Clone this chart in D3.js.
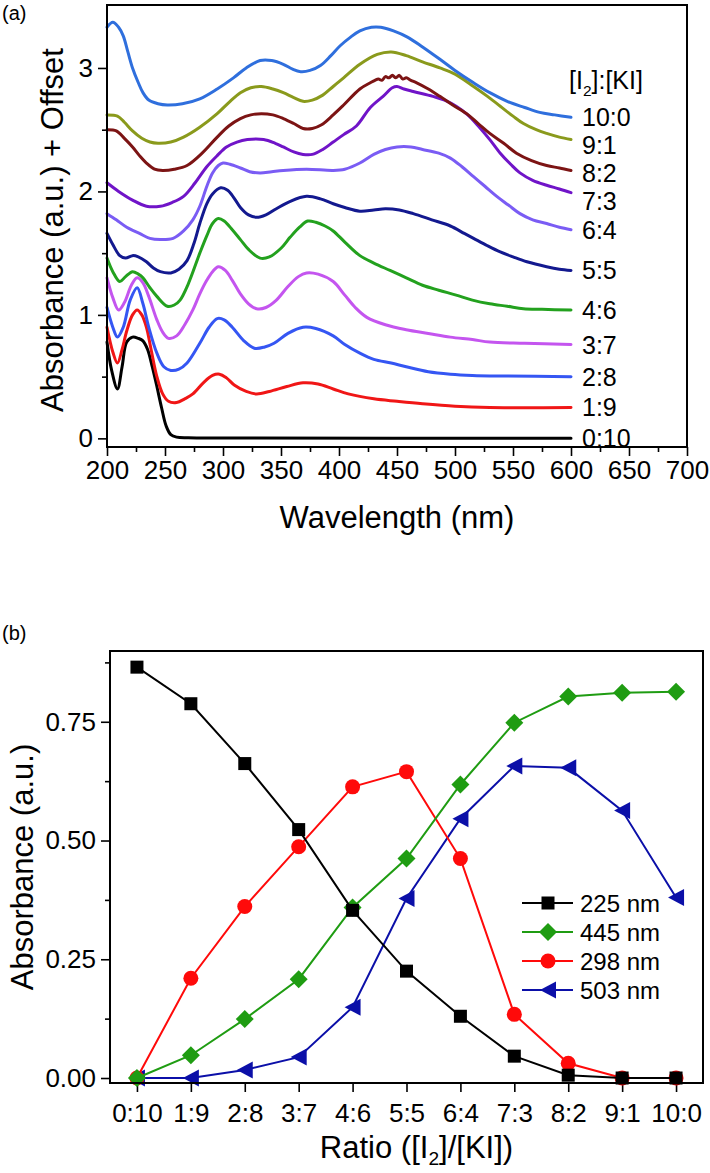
<!DOCTYPE html>
<html><head><meta charset="utf-8">
<script src="https://cdn.jsdelivr.net/npm/d3@7"></script>
<style>body{margin:0;background:#fff}svg{display:block;font-family:"Liberation Sans",Arial,Helvetica,sans-serif}</style>
</head><body><svg id="chart" width="710" height="1173"></svg>
<script>
// ---------- (a) spectra: [wavelength nm, absorbance + offset] ----------
const s10_0 = [[200,3.33],[205,3.37],[210,3.33],[214,3.26],[218,3.13],[222,3.00],[227,2.88],[231,2.80],[236,2.74],[244,2.71],[252,2.70],[265,2.71],[280,2.75],[295,2.83],[309,2.92],[320,3.00],[332,3.06],[342,3.06],[352,3.03],[360,2.99],[367,2.97],[375,2.98],[384,3.02],[393,3.10],[401,3.18],[410,3.25],[418,3.30],[428,3.33],[436,3.33],[447,3.30],[459,3.25],[472,3.17],[487,3.07],[500,2.98],[516,2.88],[530,2.80],[545,2.73],[560,2.68],[573,2.64],[586,2.62],[600,2.60]];
const s9_1 = [[200,2.62],[209,2.61],[215,2.56],[222,2.49],[230,2.43],[237,2.40],[244,2.39],[255,2.40],[266,2.44],[280,2.52],[295,2.63],[305,2.72],[315,2.80],[324,2.84],[333,2.85],[343,2.83],[352,2.80],[361,2.76],[369,2.73],[377,2.74],[386,2.78],[395,2.85],[404,2.92],[418,3.03],[433,3.11],[445,3.13],[458,3.10],[472,3.05],[487,3.00],[500,2.95],[516,2.85],[528,2.77],[539,2.69],[550,2.61],[559,2.55],[570,2.50],[579,2.47],[590,2.44],[600,2.42]];
const s8_2 = [[200,2.50],[208,2.49],[215,2.43],[222,2.36],[228,2.29],[234,2.23],[241,2.18],[248,2.17],[258,2.18],[269,2.21],[282,2.31],[295,2.44],[305,2.53],[315,2.59],[324,2.62],[333,2.63],[343,2.62],[352,2.59],[361,2.55],[369,2.51],[377,2.51],[385,2.54],[395,2.62],[404,2.70],[418,2.83],[427,2.88],[431,2.90],[434,2.91],[437,2.90],[440,2.93],[443,2.92],[446,2.94],[449,2.92],[452,2.94],[455,2.91],[458,2.92],[462,2.90],[467,2.88],[477,2.83],[487,2.77],[498,2.70],[510,2.63],[520,2.55],[530,2.47],[542,2.39],[553,2.31],[566,2.25],[579,2.21],[590,2.19],[600,2.17]];
const s7_3 = [[200,2.07],[210,2.00],[222,1.93],[234,1.88],[246,1.88],[256,1.91],[266,1.96],[276,2.07],[286,2.20],[295,2.29],[303,2.36],[312,2.40],[321,2.42],[335,2.42],[345,2.39],[352,2.36],[361,2.32],[369,2.30],[377,2.30],[386,2.34],[395,2.40],[404,2.46],[415,2.53],[427,2.68],[438,2.77],[446,2.84],[450,2.85],[456,2.83],[464,2.81],[481,2.77],[491,2.74],[501,2.69],[511,2.62],[521,2.52],[530,2.42],[539,2.31],[548,2.22],[556,2.15],[567,2.09],[579,2.05],[590,2.02],[600,1.99]];
const s6_4 = [[200,1.82],[208,1.77],[217,1.71],[228,1.66],[237,1.62],[246,1.61],[257,1.62],[266,1.68],[274,1.77],[280,1.88],[286,2.04],[291,2.15],[296,2.21],[300,2.23],[306,2.22],[315,2.19],[323,2.16],[332,2.15],[342,2.16],[352,2.17],[372,2.18],[395,2.17],[405,2.18],[418,2.23],[430,2.30],[440,2.34],[450,2.36],[462,2.36],[472,2.34],[486,2.31],[496,2.27],[506,2.20],[516,2.12],[526,2.04],[536,1.96],[546,1.89],[556,1.82],[567,1.77],[579,1.74],[590,1.71],[600,1.69]];
const s5_5 = [[200,1.66],[205,1.57],[211,1.48],[216,1.46],[222,1.48],[227,1.47],[234,1.43],[240,1.38],[246,1.35],[255,1.34],[262,1.37],[269,1.44],[275,1.58],[280,1.74],[286,1.90],[291,1.98],[298,2.03],[304,2.01],[310,1.94],[315,1.87],[322,1.81],[329,1.79],[337,1.81],[346,1.86],[358,1.92],[372,1.96],[384,1.94],[395,1.90],[405,1.87],[418,1.84],[430,1.85],[440,1.86],[452,1.85],[464,1.82],[480,1.77],[496,1.72],[508,1.66],[516,1.62],[528,1.56],[539,1.51],[550,1.47],[562,1.43],[579,1.39],[590,1.37],[600,1.36]];
const s4_6 = [[200,1.46],[205,1.35],[211,1.27],[216,1.31],[222,1.35],[227,1.33],[231,1.30],[237,1.22],[243,1.15],[252,1.07],[258,1.08],[263,1.12],[270,1.25],[280,1.50],[286,1.64],[291,1.74],[296,1.78],[301,1.76],[308,1.69],[315,1.61],[322,1.53],[332,1.46],[340,1.47],[350,1.54],[358,1.63],[366,1.71],[373,1.76],[380,1.75],[388,1.72],[395,1.68],[405,1.59],[418,1.48],[430,1.42],[444,1.36],[458,1.30],[472,1.24],[486,1.20],[501,1.16],[515,1.12],[530,1.09],[545,1.07],[559,1.05],[575,1.045],[600,1.04]];
const s3_7 = [[200,1.30],[205,1.14],[210,1.04],[215,1.10],[221,1.24],[226,1.30],[231,1.26],[236,1.15],[243,0.96],[248,0.86],[253,0.81],[260,0.83],[267,0.92],[274,1.04],[280,1.17],[286,1.28],[291,1.35],[296,1.39],[302,1.36],[308,1.28],[315,1.17],[322,1.09],[329,1.05],[337,1.06],[346,1.12],[356,1.23],[365,1.31],[372,1.34],[382,1.33],[395,1.27],[405,1.16],[414,1.06],[424,0.98],[440,0.92],[458,0.88],[477,0.85],[496,0.82],[515,0.80],[530,0.78],[560,0.77],[600,0.76]];
const s2_8 = [[200,1.06],[205,0.90],[209,0.82],[214,0.90],[220,1.12],[226,1.22],[231,1.09],[236,0.90],[243,0.69],[249,0.58],[255,0.55],[262,0.56],[269,0.61],[280,0.77],[288,0.90],[295,0.97],[301,0.96],[308,0.90],[318,0.79],[327,0.73],[336,0.74],[344,0.77],[356,0.85],[369,0.90],[380,0.89],[395,0.83],[405,0.76],[418,0.69],[430,0.64],[445,0.61],[458,0.58],[477,0.54],[496,0.52],[515,0.51],[545,0.505],[600,0.50]];
const s1_9 = [[200,0.90],[205,0.70],[209,0.61],[213,0.72],[217,0.87],[222,1.00],[226,1.04],[230,1.00],[234,0.90],[238,0.72],[243,0.50],[248,0.36],[253,0.30],[260,0.29],[267,0.32],[274,0.36],[283,0.45],[291,0.51],[297,0.52],[303,0.49],[310,0.43],[320,0.38],[329,0.36],[340,0.38],[355,0.42],[369,0.45],[382,0.44],[395,0.40],[408,0.36],[430,0.32],[450,0.30],[472,0.28],[500,0.26],[530,0.25],[600,0.25]];
const s0_10 = [[200,0.78],[204,0.55],[209,0.40],[213,0.58],[217,0.78],[222,0.82],[227,0.81],[231,0.79],[235,0.72],[239,0.58],[243,0.42],[247,0.25],[251,0.10],[255,0.03],[260,0.01],[270,0.005],[300,0.003],[600,0.0]];

const spectraLabels = ['10:0','9:1','8:2','7:3','6:4','5:5','4:6','3:7','2:8','1:9','0:10'];
const spectraData = [s10_0, s9_1, s8_2, s7_3, s6_4, s5_5, s4_6, s3_7, s2_8, s1_9, s0_10];
const spectraColors = ['#2f6fdd','#8a9a1c','#7c1414','#7014c8','#7a5cf4','#13198f','#23a11e','#c455ef','#3556f3','#f01616','#000000'];

// ---------- (b) absorbance vs ratio ----------
const ratios = ['0:10','1:9','2:8','3:7','4:6','5:5','6:4','7:3','8:2','9:1','10:0'];
const abs225 = [0.865, 0.788, 0.662, 0.523, 0.353, 0.225, 0.130, 0.046, 0.006, 0.0, 0.0];
const abs445 = [0.0, 0.048, 0.124, 0.208, 0.359, 0.462, 0.618, 0.748, 0.803, 0.811, 0.813];
const abs298 = [0.0, 0.210, 0.361, 0.487, 0.613, 0.645, 0.462, 0.134, 0.031, 0.0, 0.0];
const abs503 = [0.0, 0.0, 0.017, 0.044, 0.149, 0.378, 0.546, 0.657, 0.653, 0.563, 0.380];
const seriesNames = ['225 nm','445 nm','298 nm','503 nm'];

const svg = d3.select('#chart');
svg.append('rect').attr('width', 710).attr('height', 1173).attr('fill', '#fff');

function subText(sel, parts) {
  // parts: [text, isSub]
  parts.forEach(([t, sub], i) => {
    const ts = sel.append('tspan').text(t);
    if (sub) ts.attr('dy', 7).attr('font-size', '0.62em');
    else if (i > 0 && parts[i - 1][1]) ts.attr('dy', -7);
  });
}

// ================= panel (a) =================
const A = { l: 107, r: 687, t: 5, b: 447 };
const xa = d3.scaleLinear().domain([200, 700]).range([A.l, A.r]);
const ya = d3.scaleLinear().domain([-0.07, 3.51]).range([A.b, A.t]);
const ga = svg.append('g');

const xAxA = d3.axisBottom(xa).tickValues(d3.range(200, 701, 50)).tickSize(9).tickSizeOuter(0).tickPadding(5).tickFormat(d3.format('d'));
ga.append('g').attr('transform', `translate(0,${A.b})`).call(xAxA)
  .call(g => g.select('.domain').remove())
  .call(g => g.selectAll('line').attr('stroke', '#000').attr('stroke-width', 1.6))
  .call(g => g.selectAll('text').attr('font-size', 26).attr('fill', '#000').attr('font-family', null));
ga.append('g').attr('transform', `translate(0,${A.b})`)
  .call(d3.axisBottom(xa).tickValues(d3.range(225, 700, 50)).tickSize(5).tickFormat(''))
  .call(g => g.select('.domain').remove())
  .call(g => g.selectAll('line').attr('stroke', '#000').attr('stroke-width', 1.6));

ga.append('g').attr('transform', `translate(${A.l},0)`)
  .call(d3.axisLeft(ya).tickValues([0, 1, 2, 3]).tickSize(9).tickPadding(5).tickFormat(d3.format('d')))
  .call(g => g.select('.domain').remove())
  .call(g => g.selectAll('line').attr('stroke', '#000').attr('stroke-width', 1.6))
  .call(g => g.selectAll('text').attr('font-size', 26).attr('fill', '#000').attr('font-family', null));
ga.append('g').attr('transform', `translate(${A.l},0)`)
  .call(d3.axisLeft(ya).tickValues([0.5, 1.5, 2.5]).tickSize(5).tickFormat(''))
  .call(g => g.select('.domain').remove())
  .call(g => g.selectAll('line').attr('stroke', '#000').attr('stroke-width', 1.6));

const lineA = d3.line().x(d => xa(d[0])).y(d => ya(d[1])).curve(d3.curveCatmullRom.alpha(0.5));
ga.append('g').selectAll('path').data(spectraData.slice().reverse()).join('path')
  .attr('d', lineA).attr('fill', 'none')
  .attr('stroke', (d, i) => spectraColors[spectraData.length - 1 - i])
  .attr('stroke-width', 3).attr('stroke-linejoin', 'round').attr('stroke-linecap', 'round');

ga.append('rect').attr('x', A.l).attr('y', A.t).attr('width', A.r - A.l).attr('height', A.b - A.t)
  .attr('fill', 'none').attr('stroke', '#000').attr('stroke-width', 2);

// series labels at the end of each spectrum, nudged apart
let prevY = -Infinity;
const labY = spectraData.map(s => {
  let yy = ya(s[s.length - 1][1]);
  if (yy - prevY < 28) yy = prevY + 28;
  prevY = yy;
  return yy;
});
ga.append('g').selectAll('text').data(spectraLabels).join('text')
  .attr('x', xa(600) + 11).attr('y', (d, i) => labY[i]).attr('dy', '0.36em')
  .attr('font-size', 25).text(d => d);
subText(ga.append('text').attr('x', 569).attr('y', 89).attr('font-size', 25), [['[I', false], ['2', true], [']:[KI]', false]]);

ga.append('text').attr('x', xa(450)).attr('y', 528).attr('text-anchor', 'middle').attr('font-size', 31).text('Wavelength (nm)');
ga.append('text').attr('transform', `translate(63,${(A.t + A.b) / 2 + 4}) rotate(-90)`).attr('text-anchor', 'middle')
  .attr('font-size', 31).text('Absorbance (a.u.) + Offset');
ga.append('text').attr('x', 2).attr('y', 20).attr('font-size', 20).text('(a)');

// ================= panel (b) =================
const B = { l: 110, r: 703, t: 651, b: 1083 };
const xb = d3.scalePoint().domain(ratios).range([B.l, B.r]).padding(0.5);
const yb = d3.scaleLinear().domain([-0.0105, 0.899]).range([B.b, B.t]);
const gb = svg.append('g');

gb.append('g').attr('transform', `translate(0,${B.b})`)
  .call(d3.axisBottom(xb).tickSize(9).tickPadding(12))
  .call(g => g.select('.domain').remove())
  .call(g => g.selectAll('line').attr('stroke', '#000').attr('stroke-width', 1.6))
  .call(g => g.selectAll('text').attr('font-size', 26).attr('fill', '#000').attr('font-family', null));
gb.append('g').attr('transform', `translate(${B.l},0)`)
  .call(d3.axisLeft(yb).tickValues([0, 0.25, 0.5, 0.75]).tickSize(9).tickPadding(5).tickFormat(d3.format('.2f')))
  .call(g => g.select('.domain').remove())
  .call(g => g.selectAll('line').attr('stroke', '#000').attr('stroke-width', 1.6))
  .call(g => g.selectAll('text').attr('font-size', 26).attr('fill', '#000').attr('font-family', null));
gb.append('g').attr('transform', `translate(${B.l},0)`)
  .call(d3.axisLeft(yb).tickValues([0.125, 0.375, 0.625, 0.875]).tickSize(5).tickFormat(''))
  .call(g => g.select('.domain').remove())
  .call(g => g.selectAll('line').attr('stroke', '#000').attr('stroke-width', 1.6));

const seriesB = [
  { name: seriesNames[0], vals: abs225, color: '#000000', shape: 'square' },
  { name: seriesNames[1], vals: abs445, color: '#1f9c12', shape: 'diamond' },
  { name: seriesNames[2], vals: abs298, color: '#ff0a0a', shape: 'circle' },
  { name: seriesNames[3], vals: abs503, color: '#0b0fa8', shape: 'left' }
];
function marker(sel, shape, color) {
  if (shape === 'square') sel.append('rect').attr('x', -6.5).attr('y', -6.5).attr('width', 13).attr('height', 13).attr('fill', color);
  else if (shape === 'diamond') sel.append('path').attr('d', 'M0,-9L9,0L0,9L-9,0Z').attr('fill', color);
  else if (shape === 'circle') sel.append('circle').attr('r', 7.5).attr('fill', color);
  else sel.append('path').attr('d', 'M-8,0L8,-8.5L8,8.5Z').attr('fill', color);
}
const lineB = d3.line().x((d, i) => xb(ratios[i])).y(d => yb(d));
// draw in reverse so black squares sit on top as in the original stacking
seriesB.slice().reverse().forEach(s => {
  const g = gb.append('g');
  g.append('path').attr('d', lineB(s.vals)).attr('fill', 'none').attr('stroke', s.color).attr('stroke-width', 2);
  s.vals.forEach((v, i) => marker(g.append('g').attr('transform', `translate(${xb(ratios[i])},${yb(v)})`), s.shape, s.color));
});

gb.append('rect').attr('x', B.l).attr('y', B.t).attr('width', B.r - B.l).attr('height', B.b - B.t)
  .attr('fill', 'none').attr('stroke', '#000').attr('stroke-width', 2);

// legend
const leg = gb.append('g').attr('transform', 'translate(522,903)');
seriesB.forEach((s, i) => {
  const r = leg.append('g').attr('transform', `translate(0,${i * 29})`);
  r.append('line').attr('x1', 0).attr('x2', 51).attr('stroke', s.color).attr('stroke-width', 2);
  marker(r.append('g').attr('transform', 'translate(26,0)'), s.shape, s.color);
  r.append('text').attr('x', 58).attr('dy', '0.36em').attr('font-size', 24).text(s.name);
});

subText(gb.append('text').attr('x', (B.l + B.r) / 2 + 10).attr('y', 1158).attr('text-anchor', 'middle').attr('font-size', 31),
  [['Ratio ([I', false], ['2', true], [']/[KI])', false]]);
gb.append('text').attr('transform', `translate(33,${(B.t + B.b) / 2}) rotate(-90)`).attr('text-anchor', 'middle')
  .attr('font-size', 31).text('Absorbance (a.u.)');
gb.append('text').attr('x', 2).attr('y', 640).attr('font-size', 20).text('(b)');
</script></body></html>
